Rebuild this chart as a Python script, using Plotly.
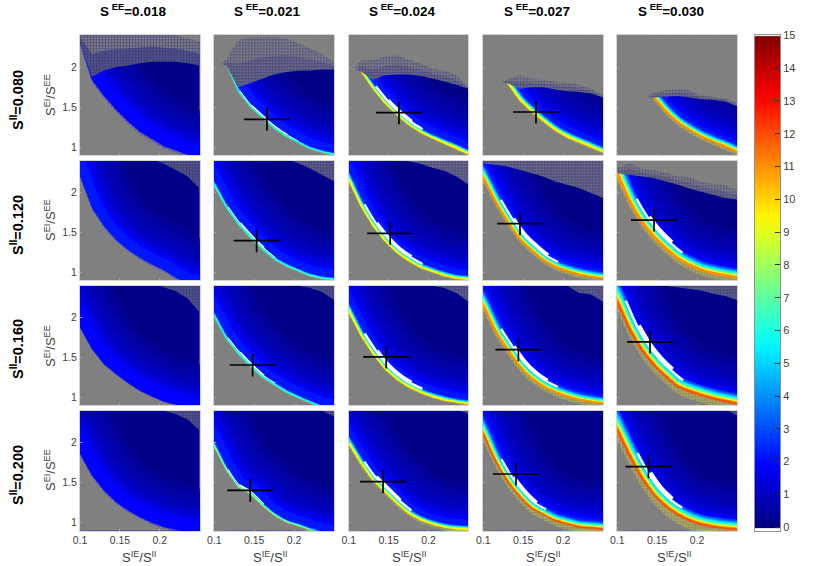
import numpy as np
import plotly.graph_objects as go

S_EE = ["0.018", "0.021", "0.024", "0.027", "0.030"]
S_II = ["0.080", "0.120", "0.160", "0.200"]
x_grid = [0.10, 0.115, 0.13, 0.145, 0.16, 0.175, 0.19, 0.205, 0.22, 0.235, 0.25]
x_ticks = [0.1, 0.15, 0.2]
y_ticks = [1, 1.5, 2]
bar_ticks = list(range(16))
N = None
T = 2.45

# edge where the grey stops and the rates begin, per row then per S_EE column
lower_080 = [
    [2.30, 1.84, 1.64, 1.47, 1.32, 1.19, 1.10, 1.01, 0.955, 0.90, 0.86],
    [N, 2.02, 1.69, 1.50, 1.36, 1.23, 1.13, 1.05, 0.975, 0.93, 0.90],
    [N, 1.95, 1.73, 1.546, 1.40, 1.275, 1.18, 1.108, 1.046, 0.983, 0.912],
    [N, N, 1.80, 1.588, 1.442, 1.317, 1.204, 1.12, 1.054, 0.992, 0.929],
    [N, N, N, 1.62, 1.442, 1.304, 1.204, 1.12, 1.054, 0.996, 0.929],
]
lower_120 = [
    [2.20, 1.804, 1.575, 1.408, 1.283, 1.18, 1.096, 1.025, 0.93, 0.86, 0.83],
    [2.075, 1.804, 1.596, 1.43, 1.283, 1.158, 1.075, 1.01, 0.95, 0.917, 0.90],
    [2.138, 1.825, 1.575, 1.388, 1.242, 1.138, 1.054, 1.0, 0.95, 0.917, 0.90],
    [2.158, 1.867, 1.617, 1.408, 1.263, 1.138, 1.054, 1.0, 0.958, 0.929, 0.908],
    [2.20, 1.867, 1.617, 1.43, 1.283, 1.158, 1.075, 1.01, 0.971, 0.942, 0.917],
]
lower_160 = [
    [1.875, 1.604, 1.417, 1.292, 1.18, 1.083, 1.013, 0.946, 0.908, 0.86, 0.83],
    [2.0, 1.729, 1.542, 1.388, 1.25, 1.154, 1.063, 0.992, 0.925, 0.87, 0.84],
    [2.063, 1.771, 1.542, 1.354, 1.221, 1.125, 1.054, 1.0, 0.958, 0.929, 0.908],
    [2.125, 1.813, 1.583, 1.375, 1.229, 1.125, 1.054, 1.0, 0.958, 0.929, 0.908],
    [2.167, 1.833, 1.583, 1.396, 1.25, 1.125, 1.063, 1.013, 0.971, 0.938, 0.908],
]
lower_200 = [
    [1.858, 1.588, 1.40, 1.254, 1.15, 1.067, 0.996, 0.942, 0.91, 0.87, 0.84],
    [1.942, 1.65, 1.442, 1.358, 1.21, 1.088, 1.004, 0.954, 0.90, 0.86, 0.83],
    [1.979, 1.733, 1.525, 1.379, 1.233, 1.108, 1.025, 0.971, 0.933, 0.912, 0.904],
    [2.088, 1.754, 1.504, 1.317, 1.171, 1.088, 1.013, 0.971, 0.933, 0.921, 0.908],
    [2.129, 1.817, 1.546, 1.338, 1.192, 1.088, 1.013, 0.963, 0.933, 0.912, 0.90],
]

# top of the unbroken colour
solid_080 = [
    [2.30, 1.88, 1.96, 2.0, 2.02, 2.05, 2.07, 2.07, 2.07, 2.05, 2.02],
    [N, 2.02, 1.75, 1.80, 1.86, 1.91, 1.94, 1.955, 1.96, 1.97, 1.97],
    [N, 1.95, 1.84, 1.90, 1.91, 1.91, 1.89, 1.86, 1.82, 1.78, 1.73],
    [N, N, 1.80, 1.73, 1.75, 1.75, 1.72, 1.70, 1.69, 1.67, 1.62],
    [N, N, N, 1.62, 1.63, 1.64, 1.62, 1.60, 1.59, 1.57, 1.51],
]
solid_120 = [
    [T, T, T, T, T, T, 2.42, 2.36, 2.28, 2.2, 2.05],
    [T, T, T, T, T, T, 2.42, 2.37, 2.30, 2.22, 2.14],
    [T, T, T, T, T, 2.39, 2.36, 2.31, 2.27, 2.2, 2.1],
    [2.367, 2.346, 2.325, 2.283, 2.242, 2.2, 2.138, 2.096, 2.054, 1.992, 1.929],
    [2.24, 2.22, 2.2, 2.18, 2.14, 2.1, 2.05, 2.01, 1.97, 1.93, 1.91],
]
solid_160 = [
    [T, T, T, T, T, T, T, 2.38, 2.33, 2.24, 2.06],
    [T, T, T, T, T, T, T, 2.40, 2.37, 2.32, 2.22],
    [T, T, T, T, T, T, T, 2.40, 2.37, 2.31, 2.2],
    [T, T, T, T, T, T, 2.42, 2.40, 2.31, 2.29, 2.2],
    [T, T, T, T, 2.4, 2.38, 2.36, 2.34, 2.3, 2.27, 2.22],
]
solid_200 = [
    [T, T, T, T, T, T, T, 2.4, 2.36, 2.29, 2.15],
    [T, T, T, T, T, T, T, T, 2.42, 2.4, 2.33],
    [T, T, T, T, T, T, T, T, T, 2.42, 2.36],
    [T, T, T, T, T, T, T, T, T, T, T],
    [T, T, T, T, T, T, T, T, T, 2.42, 2.34],
]

# how far the stray points reach above the solid part
speck_080 = [
    [T, T, T, T, T, T, T, 2.42, 2.40, 2.36, 2.32],
    [N, 2.10, 2.34, 2.37, 2.38, 2.38, 2.36, 2.30, 2.23, 2.17, 2.07],
    [N, 2.08, 2.09, 2.13, 2.15, 2.09, 2.05, 1.98, 1.96, 1.90, 1.75],
    [N, N, 1.85, 1.90, 1.86, 1.84, 1.82, 1.80, 1.78, 1.73, 1.65],
    [N, N, N, 1.68, 1.71, 1.73, 1.71, 1.65, 1.63, 1.61, 1.55],
]
speck_120_c5 = [2.3, 2.37, 2.3, 2.28, 2.25, 2.2, 2.19, 2.13, 2.11, 2.09, 2.03]

# share of the stray zone that is filled, per row
speck_mix = [
    [0.8, 0.62, 0.62, 0.6, 0.6],
    [0.8, 0.7, 0.6, 0.6, 0.55],
    [0.8, 0.8, 0.7, 0.7, 0.7],
    [0.8, 0.8, 0.8, 0.8, 0.8],
]

# highest rate seen along the edge
peak = [
    [2.0, 6.0, 9.5, 10.5, 11.0],
    [2.2, 7.0, 9.8, 11.0, 11.5],
    [2.0, 7.0, 9.8, 11.8, 12.0],
    [2.0, 7.5, 10.0, 12.0, 12.5],
]
# scattered points below the edge, depth in y units
stray_depth = [
    [0.03, 0.01, 0.015, 0.02, 0.03],
    [0.02, 0.01, 0.015, 0.03, 0.05],
    [0.01, 0.01, 0.015, 0.04, 0.08],
    [0.02, 0.01, 0.03, 0.06, 0.10],
]
# grid indices covered by the white (off-scale) band
white_span = [
    [N, (2, 7), (2, 6), (3, 5), (4, 6)],
    [N, (1, 5), (1, 6), (1, 6), (1, 5)],
    [N, (1, 5), (1, 6), (1, 6), (0, 5)],
    [N, (1, 4), (1, 5), (1, 5), (1, 5)],
]
white_hw = [
    [0, 3.0, 6.5, 4.5, 6.0],
    [0, 3.5, 7.0, 9.5, 12.0],
    [0, 3.5, 7.5, 10.0, 13.0],
    [0, 3.5, 7.0, 10.0, 13.0],
]
hot_scale = [
    [1, 0.25, 0.42, 0.6, 0.75],
    [1, 0.28, 0.5, 0.8, 1.05],
    [1, 0.28, 0.5, 0.85, 1.15],
    [1, 0.28, 0.5, 0.85, 1.15],
]

# cross positions
cross_x = [
    [N, 0.166, 0.163, 0.166, N],
    [N, 0.153, 0.152, 0.146, 0.146],
    [N, 0.148, 0.147, 0.144, 0.141],
    [N, 0.145, 0.143, 0.141, 0.139],
]
cross_y = [
    [N, 1.347, 1.430, 1.439, N],
    [N, 1.395, 1.488, 1.608, 1.654],
    [N, 1.406, 1.507, 1.598, 1.695],
    [N, 1.404, 1.512, 1.608, 1.700],
]

lower_rows = [lower_080, lower_120, lower_160, lower_200]
solid_rows = [solid_080, solid_120, solid_160, solid_200]

# rate levels painted as nested strokes along the edge: level, half width in px
fade_levels = [0.35, 0.45, 0.55, 0.65, 0.75, 0.85, 1.0, 1.15, 1.3, 1.5, 1.7, 1.9, 2.2]
fade_hw = [46, 42, 38, 34, 31, 28, 25, 22, 19, 16, 14, 12, 10.5]
hot_levels = [3.0, 4.0, 5.0, 6.0, 7.5, 9.4, 11.0, 12.0]
hot_hw = [9.5, 8.0, 7.0, 6.0, 4.8, 3.8, 2.8, 1.8]

W, H = 817, 566
col_left = [80.0, 214.3, 348.7, 483.3, 617.3]
row_top = [35.3, 160.5, 285.7, 410.8]
PANEL = 119.7
GREY = "#808080"
NAVY = "#000088"
TEXT = "#404040"
EDGE = "#d4d4d4"
FONT = "Liberation Sans"
ARM_X = 0.0288
ARM_Y = 0.144


def jet(v):
    t = v / 15
    r = np.clip(min(4 * t - 1.5, -4 * t + 4.5), 0, 1)
    g = np.clip(min(4 * t - 0.5, -4 * t + 3.5), 0, 1)
    b = np.clip(min(4 * t + 0.5, -4 * t + 2.5), 0, 1)
    return "rgb(%d,%d,%d)" % (r * 255, g * 255, b * 255)


def valid(ys):
    pts = [(x, y) for x, y in zip(x_grid, ys) if y is not None]
    return [p[0] for p in pts], [p[1] for p in pts]


def extended(xs, ys):
    # run the strokes past the frame so their square ends get clipped
    xs, ys = list(xs), list(ys)
    if xs[0] == x_grid[0]:
        xs.insert(0, xs[0] - 0.03)
        ys.insert(0, ys[0] + 2 * (ys[0] - ys[1]))
    xs.append(xs[-1] + 0.03)
    ys.append(ys[-1] + 2 * (ys[-1] - ys[-2]))
    return xs, ys


fig = go.Figure()
layout = {}
annotations = []
n = 0

for r in range(4):
    for c in range(5):
        n += 1
        xa, ya = f"x{n}", f"y{n}"
        left, top = col_left[c], row_top[r]
        layout[f"xaxis{n}"] = dict(
            domain=[left / W, (left + PANEL) / W], range=[0.1, 0.25], anchor=ya, automargin=False,
            tickvals=x_ticks, ticktext=["0.1", "0.15", "0.2"], showticklabels=r == 3,
            showgrid=False, zeroline=False, showline=True, mirror=True, linecolor=EDGE, linewidth=1,
            ticks="inside", ticklen=2, tickcolor="#a0a0a0",
            tickfont=dict(family=FONT, size=10.5, color=TEXT),
        )
        layout[f"yaxis{n}"] = dict(
            domain=[1 - (top + PANEL) / H, 1 - top / H], range=[0.9, 2.4], anchor=xa, automargin=False,
            tickvals=y_ticks, ticktext=["1", "1.5", "2"], showticklabels=c == 0,
            showgrid=False, zeroline=False, showline=True, mirror=True, linecolor=EDGE, linewidth=1,
            ticks="inside", ticklen=2, tickcolor="#a0a0a0",
            tickfont=dict(family=FONT, size=10.5, color=TEXT),
        )

        lx, ly = valid(lower_rows[r][c])
        ex, ey = extended(lx, ly)
        common = dict(xaxis=xa, yaxis=ya, hoverinfo="skip", showlegend=False)

        # navy ground
        fig.add_trace(go.Scatter(x=[0.05, 0.3, 0.3, 0.05], y=[0.5, 0.5, 3, 3], mode="lines", fill="toself",
                                 fillcolor=NAVY, line=dict(width=0), **common))

        for lev, hw in zip(fade_levels, fade_hw):
            if lev <= peak[r][c]:
                fig.add_trace(go.Scatter(x=ex, y=ey, mode="lines",
                                         line=dict(color=jet(lev), width=2 * hw, shape="spline"), **common))
        for lev, hw in zip(hot_levels, hot_hw):
            if lev > peak[r][c]:
                continue
            width = 2 * hw * hot_scale[r][c]
            # white band sits between the blue fade and the hot edge
            if lev == 5.0 and white_span[r][c]:
                a, b = white_span[r][c]
                fig.add_trace(go.Scatter(x=x_grid[a:b + 1], y=lower_rows[r][c][a:b + 1], mode="lines",
                                         line=dict(color="white", width=2 * 0.8 * white_hw[r][c], shape="spline"),
                                         **common))
                if b - a >= 2:
                    fig.add_trace(go.Scatter(x=x_grid[a + 1:b], y=lower_rows[r][c][a + 1:b], mode="lines",
                                             line=dict(color="white", width=2 * white_hw[r][c], shape="spline"),
                                             **common))
            fig.add_trace(go.Scatter(x=ex, y=ey, mode="lines",
                                     line=dict(color=jet(lev), width=width, shape="spline"), **common))

        # grey below the edge, first with stray points, then clean
        first_x = lx[0]
        depth = stray_depth[r][c]
        dot = jet(2.0) if c == 0 else jet(9.5)
        fig.add_trace(go.Scatter(
            x=ex + [0.3, 0.05, 0.05, first_x], y=ey + [0.5, 0.5, 3, 3], mode="lines", fill="toself",
            fillcolor=GREY, line=dict(width=0),
            fillpattern=dict(shape=".", size=3, solidity=0.45, fgcolor=dot, bgcolor=GREY), **common))
        fig.add_trace(go.Scatter(
            x=ex + [0.3, 0.05, 0.05, first_x], y=[v - depth for v in ey] + [0.5, 0.5, 3, 3], mode="lines",
            fill="toself", fillcolor=GREY, line=dict(width=0), **common))

        # stray zone above the solid colour
        sx, sy = valid(solid_rows[r][c])
        def top_mask(xs, ys, pattern, lead):
            trace = dict(x=xs + [0.3, 0.3, first_x - lead, first_x - lead], y=ys + [ys[-1], 3, 3, sy[0]],
                         mode="lines", fill="toself", fillcolor=GREY, line=dict(width=0))
            if pattern:
                trace["fillpattern"] = dict(shape=".", size=3, solidity=pattern, fgcolor=NAVY, bgcolor=GREY)
            fig.add_trace(go.Scatter(**trace, **common))

        top_mask(sx, sy, speck_mix[r][c], 0.003)
        top_line = None
        if r == 0:
            top_line = speck_080[c]
        elif r == 1 and c == 4:
            top_line = speck_120_c5
        if top_line:
            tx, ty = valid(top_line)
            # thinner half of the zone, then clean grey above it
            top_mask(tx, [(a + b) / 2 for a, b in zip(sy, ty)], speck_mix[r][c] * 0.55, 0.006)
            top_mask(tx, ty, None, 0.012)

        if cross_x[r][c] is not None:
            fig.add_trace(go.Scatter(
                x=[cross_x[r][c]], y=[cross_y[r][c]], mode="markers", marker=dict(size=1, color="black"),
                error_x=dict(type="constant", value=ARM_X, width=0, thickness=1.7, color="black"),
                error_y=dict(type="constant", value=ARM_Y, width=0, thickness=1.7, color="black"),
                **common))

# colour bar
n += 1
levels = [-0.1, -0.05, -0.02] + [float(v) for v in np.arange(0.05, 15.0, 0.05)]
scale = [[0.0, "white"], [0.0034, "white"], [0.0035, jet(0)]]
for v in np.arange(0.5, 15.01, 0.5):
    scale.append([float((v + 0.1) / 15.1), jet(v)])
fig.add_trace(go.Heatmap(x=[0, 1], y=levels, z=[[v, v] for v in levels], zmin=-0.1, zmax=15,
                         colorscale=scale, showscale=False, hoverinfo="skip", xaxis=f"x{n}", yaxis=f"y{n}"))
layout[f"xaxis{n}"] = dict(domain=[754.5 / W, 780 / W], range=[0, 1], anchor=f"y{n}", showticklabels=False,
                           ticks="", showgrid=False, zeroline=False, showline=True, mirror=True,
                           automargin=False, linecolor="#909090", linewidth=1)
layout[f"yaxis{n}"] = dict(domain=[1 - 530.5 / H, 1 - 35.3 / H], range=[-0.1, 15], anchor=f"x{n}", side="right",
                           tickvals=bar_ticks, ticks="inside", ticklen=5, tickcolor="#303030", tickwidth=1,
                           showgrid=False, zeroline=False, showline=True, mirror=True, linecolor="#909090",
                           automargin=False, linewidth=1, tickfont=dict(family=FONT, size=11, color=TEXT))

# hidden full-page axes carry the free texts
n += 1
page_x, page_y = f"x{n}", f"y{n}"
fig.add_trace(go.Scatter(x=[None], y=[None], xaxis=page_x, yaxis=page_y, showlegend=False, hoverinfo="skip"))
layout[f"xaxis{n}"] = dict(domain=[0, 1], range=[0, W], visible=False, anchor=page_y, fixedrange=True, automargin=False)
layout[f"yaxis{n}"] = dict(domain=[0, 1], range=[H, 0], visible=False, anchor=page_x, fixedrange=True, automargin=False)


def note(text, x, y, size, color="black", angle=0):
    annotations.append(dict(text=text, x=x, y=y, xref=page_x, yref=page_y, showarrow=False,
                            textangle=angle, xanchor="center", yanchor="middle",
                            font=dict(family=FONT, size=size, color=color)))


for c, (label, cx) in enumerate(zip(S_EE, [133, 267, 402, 537, 671])):
    note(f"<b>S<sup> EE</sup>=0.{label[2:]}</b>", cx, 10, 13.5)
for r, (label, cy, cy2) in enumerate(zip(S_II, [100, 225, 349, 475], [95, 220, 346, 470])):
    note(f"<b>S<sup>II</sup>=0.{label[2:]}</b>", 17, cy, 14.5, angle=-90)
    note("S<sup>EI</sup>/S<sup>EE</sup>", 50, cy2, 13, TEXT, angle=-90)
for cx in [139, 270, 409, 543, 674]:
    note("S<sup>IE</sup>/S<sup>II</sup>", cx, 557, 13, TEXT)

fig.update_layout(width=W, height=H, margin=dict(l=0, r=0, t=0, b=0), paper_bgcolor="white",
                  plot_bgcolor="rgba(0,0,0,0)", annotations=annotations, **layout)
fig.write_html("out.html", post_script="document.body.style.margin = '0';", config={"displayModeBar": False})
